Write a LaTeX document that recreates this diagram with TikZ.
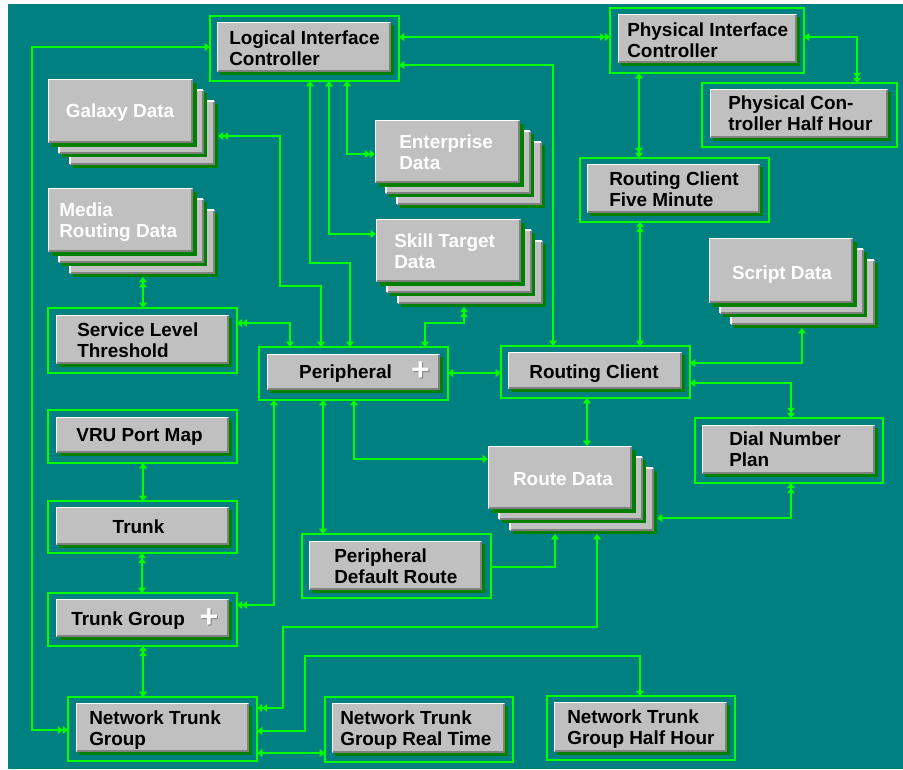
\documentclass[tikz,border=0pt]{standalone}
\usepackage{fontspec}
\setmainfont{Liberation Sans}
\usetikzlibrary{arrows.meta,fit}
\definecolor{teal0}{RGB}{0,128,128}
\definecolor{lgrn}{RGB}{0,255,0}
\definecolor{dgrn}{RGB}{0,128,0}
\definecolor{gry}{RGB}{192,192,192}
\definecolor{dgry}{RGB}{128,128,128}
\tikzset{
  Sg/.tip={Triangle[length=4pt,width=5.8pt]},
  Db/.tip={Triangle[length=3.8pt,width=5.6pt] Triangle[length=3.8pt,width=5.6pt]},
  frm/.style={draw=lgrn, line width=0.95pt, inner sep=0pt, outer sep=0pt},
  btn/.style={fill=gry, inner sep=0pt, outer sep=0pt},
  hl/.style={draw=white, line width=0.9pt},
  lo/.style={draw=dgry, line width=1.2pt},
  shd/.style={fill=dgrn},
  con/.style={draw=lgrn, line width=0.95pt},
  txt/.style={font=\fontsize{14.2}{17}\selectfont\bfseries, inner sep=0pt, text=black},
  wtxt/.style={txt, text=white},
  plus/.style={font=\fontsize{24}{24}\selectfont\bfseries, inner sep=0pt, text=white},
}
% table box: name, frame x1 y1 x2 y2, button x1 y1 x2 y2
\newcommand\tbl[9]{%
  \node[frm, fit={(#2,#3) (#4,#5)}] (#1f) {};
  \fill[shd] (#6+3,#7+3) rectangle (#8+3,#9+3);
  \node[btn, fit={(#6,#7) (#8,#9)}] (#1) {};
  \draw[hl] (#6+0.5,#9-1) -- (#6+0.5,#7+0.5) -- (#8-1,#7+0.5);
  \draw[lo] (#6+1,#9-0.8) -- (#8-0.8,#9-0.8) -- (#8-0.8,#7+1);
}
% stacked data: name, front x1 y1 x2 y2
\newcommand\stk[5]{%
  \foreach \ofs in {21.5,10.5,0}{%
    \fill[shd] (#2+\ofs+3.5,#3+\ofs+3.5) rectangle (#4+\ofs+3.5,#5+\ofs+3.5);
    \fill[gry] (#2+\ofs,#3+\ofs) rectangle (#4+\ofs,#5+\ofs);
    \draw[hl] (#2+\ofs+0.5,#5+\ofs-1) -- (#2+\ofs+0.5,#3+\ofs+0.5) -- (#4+\ofs-1,#3+\ofs+0.5);
    \draw[lo] (#2+\ofs+1,#5+\ofs-0.8) -- (#4+\ofs-0.8,#5+\ofs-0.8) -- (#4+\ofs-0.8,#3+\ofs+1);
  }
  \node[inner sep=0pt, outer sep=0pt, fit={(#2,#3) (#4+25,#5+25)}] (#1) {};
}
% two-line left-aligned text: name, x, baseline1, line1, line2, style
\newcommand\twol[6]{%
  \node[#6, anchor=base west] (#1a) at (#2,#3) {#4};
  \node[#6, anchor=base west] (#1b) at (#2,#3+21) {#5};
}
\begin{document}
\begin{tikzpicture}[x=0.75pt,y=-0.75pt]
\useasboundingbox (0,0) rectangle (903,769);
\fill[white] (0,0) rectangle (903,769);
\fill[teal0] (8,4) rectangle (903,769);

% tables
\tbl{lic}{210}{16}{399}{81}{217}{22}{391}{72}
\tbl{pic}{610}{8}{804}{73}{618}{14}{797}{63}
\tbl{pch}{702}{83}{897}{147}{710}{89}{888}{138}
\tbl{rc5}{580}{158}{769}{222}{587}{164}{760}{213}
\tbl{slt}{48}{308}{237}{373}{56}{315}{229}{364}
\tbl{per}{259}{347}{448}{400}{267}{354}{440}{390}
\tbl{rc}{501}{346}{690}{398}{508}{352}{682}{389}
\tbl{vru}{48}{410}{237}{463}{56}{417}{229}{453}
\tbl{trk}{48}{501}{237}{553}{56}{507}{229}{545}
\tbl{tg}{48}{593}{237}{646}{56}{599}{229}{637}
\tbl{ntg}{68}{697}{257}{761}{76}{703}{249}{752}
\tbl{pdr}{302}{534}{491}{598}{309}{541}{482}{590}
\tbl{dnp}{695}{418}{883}{483}{702}{425}{875}{474}
\tbl{nrt}{325}{697}{513}{762}{332}{703}{505}{753}
\tbl{nhh}{547}{696}{735}{760}{554}{702}{727}{752}

% stacked data
\stk{gal}{48}{79}{193}{143}
\stk{mrd}{48}{188}{193}{252}
\stk{ent}{375}{120}{520}{183}
\stk{skl}{376}{219}{521}{282}
\stk{scr}{709}{238}{853}{303}
\stk{rte}{488}{446}{632}{509}

% texts
\twol{licT}{229}{44}{Logical Interface}{Controller}{txt}
\twol{picT}{627}{36}{Physical Interface}{Controller}{txt}
\twol{pchT}{728}{109}{Physical Con-}{troller Half Hour}{txt}
\twol{rc5T}{609}{185}{Routing Client}{Five Minute}{txt}
\twol{sltT}{77}{336}{Service Level}{Threshold}{txt}
\twol{ntgT}{89}{724}{Network Trunk}{Group}{txt}
\twol{pdrT}{334}{562}{Peripheral}{Default Route}{txt}
\twol{dnpT}{729}{445}{Dial Number}{Plan}{txt}
\twol{nrtT}{340}{724}{Network Trunk}{Group Real Time}{txt}
\twol{nhhT}{567}{723}{Network Trunk}{Group Half Hour}{txt}
\twol{mrdT}{59}{216}{Media}{Routing Data}{wtxt}
\twol{entT}{399}{148}{Enterprise}{Data}{wtxt}
\twol{sklT}{394}{247}{Skill Target}{Data}{wtxt}
\node[txt, anchor=base] (perT) at (345.5,378) {Peripheral};
\node[txt, anchor=base] (rcT) at (594,378) {Routing Client};
\node[txt, anchor=base] (vruT) at (139.5,441) {VRU Port Map};
\node[txt, anchor=base] (trkT) at (138.5,533) {Trunk};
\node[txt, anchor=base west] (tgT) at (71,625) {Trunk Group};
\node[wtxt, anchor=base] (galT) at (120,117) {Galaxy Data};
\node[wtxt, anchor=base] (scrT) at (782,279) {Script Data};
\node[wtxt, anchor=base] (rteT) at (563,485) {Route Data};
\node[plus, text=dgry] (perP2) at (421.5,372.5) {+};
\node[plus] (perP) at (420.5,371.5) {+};
\node[plus, text=dgry] (tgP2) at (210,619) {+};
\node[plus] (tgP) at (209,618) {+};

% connectors
\draw[con, Db-Sg] (ntgf.west |- 0,730) -| (32,47) -- (licf.west |- 0,47);
\draw[con, Sg-Db] (licf.east |- 0,37) -- (picf.west |- 0,37);
\draw[con, Sg-Sg] (licf.east |- 0,65) -| (553,0 |- rcf.north);
\draw[con, Sg-Db] (347,0 |- licf.south) |- (ent.west |- 0,154);
\draw[con, Sg-Sg] (329,0 |- licf.south) |- (skl.west |- 0,234);
\draw[con, Sg-Sg] (310,0 |- licf.south) |- (350,263) -- (350,0 |- perf.north);
\draw[con, Db-Sg] (gal.east |- 0,136) -| (280,286) -| (321,0 |- perf.north);
\draw[con, Db-Sg] (sltf.east |- 0,323) -| (290,0 |- perf.north);
\draw[con, Db-Sg] (464,0 |- skl.south) |- (425,323) -- (425,0 |- perf.north);
\draw[con, Sg-Sg] (perf.east |- 0,373) -- (rcf.west |- 0,373);
\draw[con, Sg-Db] (639,0 |- picf.south) -- (639,0 |- rc5f.north);
\draw[con, Sg-Db] (picf.east |- 0,37) -| (857,0 |- pchf.north);
\draw[con, Db-Sg] (640,0 |- rc5f.south) -- (640,0 |- rcf.north);
\draw[con, Sg-Sg] (802,0 |- scr.south) |- (rcf.east |- 0,363);
\draw[con, Db-Sg] (791,0 |- dnpf.north) |- (rcf.east |- 0,383);
\draw[con, Db-Sg] (791,0 |- dnpf.south) |- (rte.east |- 0,518);
\draw[con, Sg-Sg] (587,0 |- rcf.south) -- (587,0 |- rte.north);
\draw[con, Sg-Db] (274,0 |- perf.south) |- (tgf.east |- 0,605);
\draw[con, Sg-Sg] (323,0 |- perf.south) -- (323,0 |- pdrf.north);
\draw[con, Sg-Sg] (354,0 |- perf.south) |- (rte.west |- 0,459);
\draw[con, -Sg] (pdrf.east |- 0,567) -| (555,0 |- rte.south);
\draw[con, Sg-Db] (597,0 |- rte.south) |- (283,627) |- (ntgf.east |- 0,708);
\draw[con, Sg-Sg] (ntgf.east |- 0,731) -| (305,656) -| (640,0 |- nhhf.north);
\draw[con, Sg-Sg] (ntgf.east |- 0,753) -- (nrtf.west |- 0,753);
\draw[con, Db-Sg] (143,0 |- mrd.south) -- (143,0 |- sltf.north);
\draw[con, Sg-Sg] (143,0 |- vruf.south) -- (143,0 |- trkf.north);
\draw[con, Db-Sg] (142,0 |- trkf.south) -- (142,0 |- tgf.north);
\draw[con, Db-Sg] (143,0 |- tgf.south) -- (143,0 |- ntgf.north);
\end{tikzpicture}
\end{document}
